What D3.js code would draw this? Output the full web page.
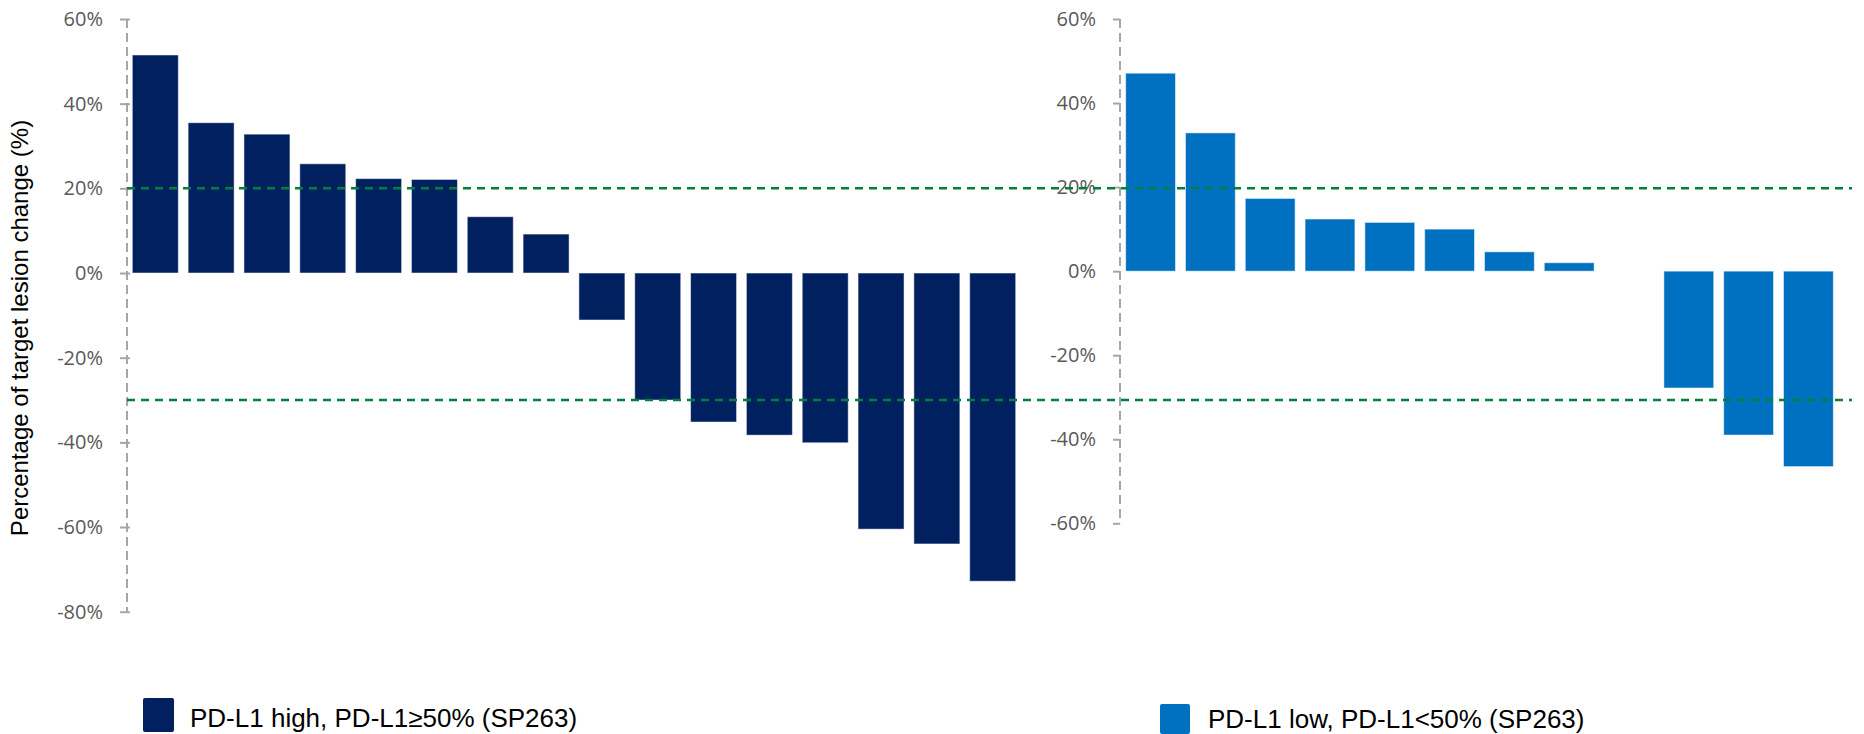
<!DOCTYPE html>
<html>
<head>
<meta charset="utf-8">
<script src="https://cdn.jsdelivr.net/npm/d3@7"></script>
<style>
  html, body { margin: 0; padding: 0; background: #fff; }
  svg { display: block; }
</style>
</head>
<body>
<svg id="chart" width="1864" height="734"></svg>
<script>
// ---- data ----
const highPatients = ["H1","H2","H3","H4","H5","H6","H7","H8","H9","H10","H11","H12","H13","H14","H15","H16"];
const highValues   = [51.5, 35.5, 32.8, 25.8, 22.3, 22.1, 13.3, 9.2, -11.1, -30.0, -35.2, -38.3, -40.1, -60.5, -64.0, -72.8];
const lowPatients  = ["L1","L2","L3","L4","L5","L6","L7","L8","L9","L10","L11","L12"];
const lowValues    = [47.1, 32.9, 17.3, 12.4, 11.6, 10.0, 4.6, 2.0, null, -27.8, -39.0, -46.5];
const leftTicks  = [60, 40, 20, 0, -20, -40, -60, -80];
const rightTicks = [60, 40, 20, 0, -20, -40, -60];
const thresholds = [20, -30];
const yTitle = "Percentage of target lesion change (%)";
const legendHigh = "PD-L1 high, PD-L1≥50% (SP263)";
const legendLow  = "PD-L1 low, PD-L1<50% (SP263)";

// ---- styles ----
const colHigh = "#002060", colLow = "#0070C0";
const axisGrey = "#a6a6a6", labelGrey = "#595959", green = "#00803a";
const tickFont = "'Open Sans', 'Noto Sans', sans-serif";
const textFont = "'Liberation Sans', Arial, sans-serif";

const svg = d3.select("#chart");

// scales
const axL = 127, axR = 1120;
const yL = d3.scaleLinear().domain([-80, 60]).range([611.7, 19]);
const yR = d3.scaleLinear().domain([-60, 60]).range([523.3, 19]);
const xL = d3.scaleBand().domain(highPatients).range([axL, 1021]).paddingInner(0.176).paddingOuter(0.095);
const xR = d3.scaleBand().domain(lowPatients).range([axR, 1839]).paddingInner(0.167).paddingOuter(0.095);

// axes
function drawAxis(x, y, ticks) {
  const g = svg.append("g").attr("transform", `translate(${x},0)`);
  const ax = d3.axisLeft(y).tickValues(ticks).tickSize(7).tickPadding(17)
    .tickFormat(d => d + "%");
  g.call(ax);
  g.select(".domain").remove();
  g.selectAll(".tick line").attr("stroke", axisGrey).attr("stroke-width", 2);
  g.selectAll(".tick text").attr("fill", labelGrey).attr("font-family", tickFont).attr("font-size", 20);
  g.append("line").attr("x1", 0).attr("x2", 0)
    .attr("y1", y(ticks[0])).attr("y2", y(ticks[ticks.length - 1]))
    .attr("stroke", axisGrey).attr("stroke-width", 2).attr("stroke-dasharray", "9,5");
  return g;
}
const gL = drawAxis(axL, yL, leftTicks);
gL.selectAll(".tick line").attr("x2", -7).attr("x1", 3);
drawAxis(axR, yR, rightTicks);

// bars
function drawBars(x, y, cats, vals, col) {
  const data = cats.map((c, i) => ({c, v: vals[i]})).filter(d => d.v !== null);
  svg.append("g").selectAll("rect").data(data).join("rect")
    .attr("x", d => x(d.c))
    .attr("width", x.bandwidth())
    .attr("y", d => y(Math.max(0, d.v)))
    .attr("height", d => Math.abs(y(d.v) - y(0)))
    .attr("fill", col)
    .attr("stroke", "rgba(255,255,255,0.5)")
    .attr("stroke-width", 1);
}
drawBars(xL, yL, highPatients, highValues, colHigh);
drawBars(xR, yR, lowPatients, lowValues, colLow);

// threshold lines
svg.append("g").selectAll("line").data(thresholds).join("line")
  .attr("x1", axL).attr("x2", 1852)
  .attr("y1", d => yL(d)).attr("y2", d => yL(d))
  .attr("stroke", green).attr("stroke-width", 2.5).attr("stroke-dasharray", "8,6");

// y title
svg.append("text")
  .attr("transform", "translate(28,328) rotate(-90)")
  .attr("text-anchor", "middle")
  .attr("font-family", textFont).attr("font-size", 24).attr("fill", "#000")
  .text(yTitle);

// legends
function legend(x, y, w, h, tx, ty, col, label) {
  const g = svg.append("g");
  g.append("rect").attr("x", x).attr("y", y).attr("width", w).attr("height", h)
    .attr("rx", 2).attr("fill", col);
  g.append("text").attr("x", tx).attr("y", ty)
    .attr("font-family", textFont).attr("font-size", 26).attr("fill", "#000")
    .text(label);
}
legend(143, 698, 31, 34, 190, 727, colHigh, legendHigh);
legend(1160, 704, 30, 30, 1208, 728, colLow, legendLow);
</script>
</body>
</html>
